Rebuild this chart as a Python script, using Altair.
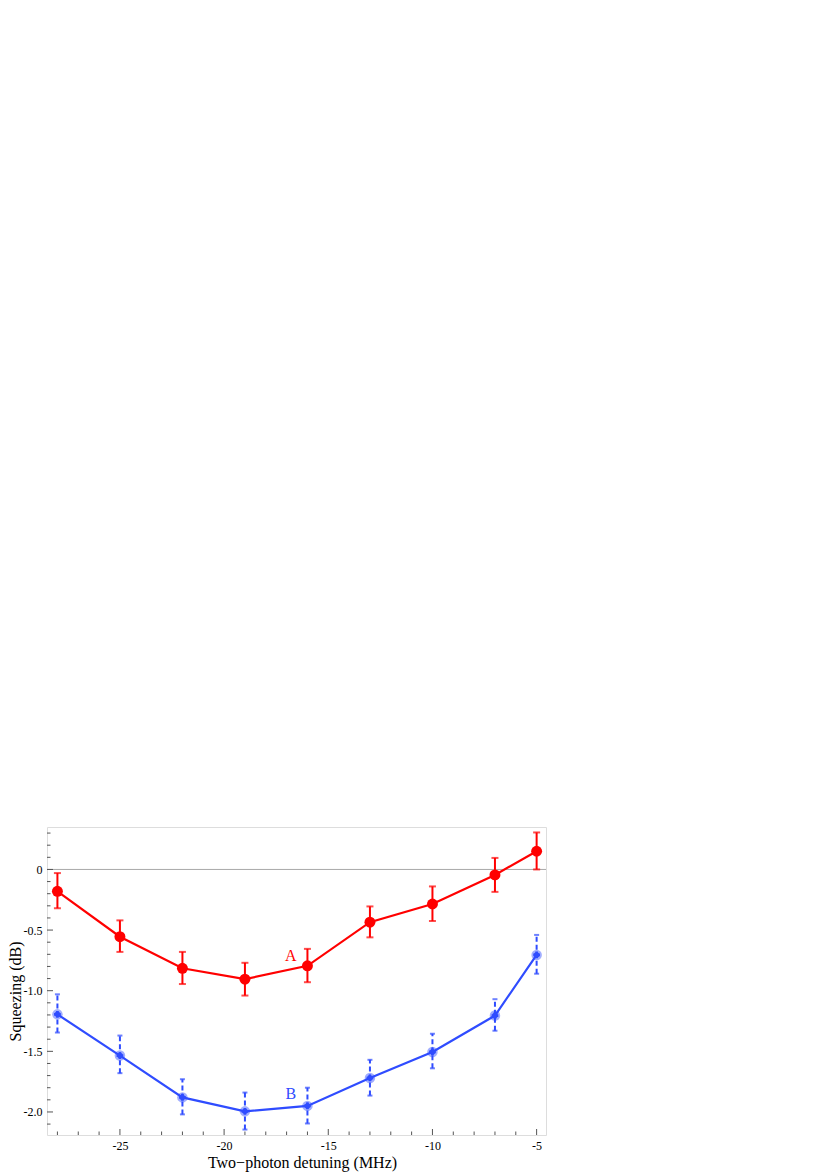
import altair as alt
import pandas as pd

# ---- data ----
detuning = [-28, -25, -22, -19, -16, -13, -10, -7, -5]
a_val = [-0.18, -0.555, -0.815, -0.905, -0.795, -0.435, -0.285, -0.045, 0.15]
a_lo = [-0.32, -0.68, -0.945, -1.04, -0.93, -0.56, -0.425, -0.185, 0.0]
a_hi = [-0.03, -0.42, -0.68, -0.77, -0.655, -0.305, -0.14, 0.095, 0.305]
b_val = [-1.195, -1.535, -1.88, -1.995, -1.95, -1.72, -1.505, -1.205, -0.705]
b_lo = [-1.345, -1.68, -2.02, -2.145, -2.095, -1.865, -1.64, -1.33, -0.86]
b_hi = [-1.03, -1.37, -1.73, -1.84, -1.8, -1.57, -1.355, -1.07, -0.54]

x_major = [-25, -20, -15, -10, -5]
x_minor = [-28, -27, -26, -24, -23, -22, -21, -19, -18, -17, -16, -14, -13, -12,
           -11, -9, -8, -7, -6]
y_major = [0.0, -0.5, -1.0, -1.5, -2.0]
y_minor = [0.3, 0.2, 0.1, -0.1, -0.2, -0.3, -0.4, -0.6, -0.7, -0.8, -0.9, -1.1,
           -1.2, -1.3, -1.4, -1.6, -1.7, -1.8, -1.9, -2.1]

label_text = ["A", "B"]
label_x = [-16.8, -16.8]
label_y = [-0.715, -1.855]

RED = "#ff0000"
BLUE = "#2f4cff"
FONT = "Liberation Serif"
W, H = 499, 308

xs = alt.Scale(domain=[-28.5, -4.55], nice=False, zero=False)
ys = alt.Scale(domain=[-2.19, 0.35], nice=False, zero=False)

dfa = pd.DataFrame({"x": detuning, "y": a_val, "lo": a_lo, "hi": a_hi})
dfb = pd.DataFrame({"x": detuning, "y": b_val, "lo": b_lo, "hi": b_hi})

fix_minus = "replace(format(datum.value, '{f}'), '\u2212', '-')"

AX = alt.Axis(
    values=x_major, labelExpr=fix_minus.format(f="d"), tickSize=0, domain=False,
    grid=False, labelFont=FONT, labelFontSize=12, labelColor="black",
    labelPadding=5, title="Two\u2212photon detuning (MHz)", titleFont=FONT,
    titleFontSize=16, titleFontWeight="normal", titleColor="black",
    titleX=255, titleY=32, titleAlign="center", titleBaseline="alphabetic")
AY = alt.Axis(
    values=y_major,
    labelExpr="datum.value == 0 ? '0' : " + fix_minus.format(f=".1f"),
    tickSize=0, domain=False, grid=False, labelFont=FONT, labelFontSize=12,
    labelColor="black", labelPadding=5, title="Squeezing (dB)", titleFont=FONT,
    titleFontSize=16, titleFontWeight="normal", titleColor="black",
    titleX=-32, titleY=164, titleAngle=270, titleAlign="center",
    titleBaseline="middle")


def X(f):
    return alt.X(f, scale=xs, axis=AX)


def Y(f):
    return alt.Y(f, scale=ys, axis=AY)


base_a = alt.Chart(dfa)
base_b = alt.Chart(dfb)
TICK = "#555555"

# zero line
zero = alt.Chart(pd.DataFrame({"y": [0.0]})).mark_rule(color="#a8a8a8", strokeWidth=1).encode(
    y=Y("y:Q"), x=alt.value(0), x2=alt.value(W))

# custom inward ticks
ymaj = alt.Chart(pd.DataFrame({"y": y_major})).mark_rule(color=TICK, strokeWidth=1).encode(
    y=Y("y:Q"), x=alt.value(0), x2=alt.value(6))
ymin = alt.Chart(pd.DataFrame({"y": y_minor})).mark_rule(color=TICK, strokeWidth=1).encode(
    y=Y("y:Q"), x=alt.value(0), x2=alt.value(3.5))
xmaj = alt.Chart(pd.DataFrame({"x": x_major})).mark_rule(color=TICK, strokeWidth=1).encode(
    x=X("x:Q"), y=alt.value(H), y2=alt.value(H - 6))
xmin = alt.Chart(pd.DataFrame({"x": x_minor})).mark_rule(color=TICK, strokeWidth=1).encode(
    x=X("x:Q"), y=alt.value(H), y2=alt.value(H - 3.5))

# series A (red)
line_a = base_a.mark_line(color=RED, strokeWidth=2.2).encode(x=X("x:Q"), y=Y("y:Q"))
err_a = base_a.mark_rule(color=RED, strokeWidth=2).encode(
    x=X("x:Q"), y=Y("lo:Q"), y2="hi:Q")
caplo_a = base_a.mark_tick(color=RED, size=7, thickness=2, orient="horizontal").encode(
    x=X("x:Q"), y=Y("lo:Q"))
caphi_a = base_a.mark_tick(color=RED, size=7, thickness=2, orient="horizontal").encode(
    x=X("x:Q"), y=Y("hi:Q"))
pts_a = base_a.mark_circle(color=RED, size=120, opacity=1).encode(
    x=X("x:Q"), y=Y("y:Q"))

# series B (blue)
line_b = base_b.mark_line(color=BLUE, strokeWidth=2.2).encode(x=X("x:Q"), y=Y("y:Q"))
err_b = base_b.mark_rule(color=BLUE, strokeWidth=2, strokeDash=[5, 3]).encode(
    x=X("x:Q"), y=Y("lo:Q"), y2="hi:Q")
caplo_b = base_b.mark_tick(color=BLUE, size=5, thickness=2, orient="horizontal").encode(
    x=X("x:Q"), y=Y("lo:Q"))
caphi_b = base_b.mark_tick(color=BLUE, size=5, thickness=2, orient="horizontal").encode(
    x=X("x:Q"), y=Y("hi:Q"))
pts_b_halo = base_b.mark_circle(color=BLUE, size=110, opacity=0.45).encode(
    x=X("x:Q"), y=Y("y:Q"))
pts_b = base_b.mark_point(shape="cross", color=BLUE, filled=True, size=45, opacity=1).encode(
    x=X("x:Q"), y=Y("y:Q"))
pts_b2 = base_b.mark_circle(color=BLUE, size=30, opacity=1).encode(
    x=X("x:Q"), y=Y("y:Q"))

labels = alt.Chart(pd.DataFrame({"t": label_text, "x": label_x, "y": label_y,
                                 "c": [RED, BLUE]})).mark_text(
    font=FONT, fontSize=16, align="center", baseline="middle").encode(
    x=X("x:Q"), y=Y("y:Q"), text="t:N",
    color=alt.Color("c:N", scale=None))

chart = alt.layer(
    zero, ymaj, ymin, xmaj, xmin, line_a,
    err_a, caplo_a, caphi_a, pts_a,
    line_b, err_b, caplo_b, caphi_b, pts_b_halo, pts_b, pts_b2,
    labels,
).properties(
    width=W, height=H,
    autosize=alt.AutoSizeParams(type="none"),
    padding={"left": 39, "top": 819, "right": 20, "bottom": 39},
).configure_view(stroke="#808080", strokeWidth=1).configure(background="white")

chart.save("out.html", embed_options={"renderer": "svg", "actions": False})
